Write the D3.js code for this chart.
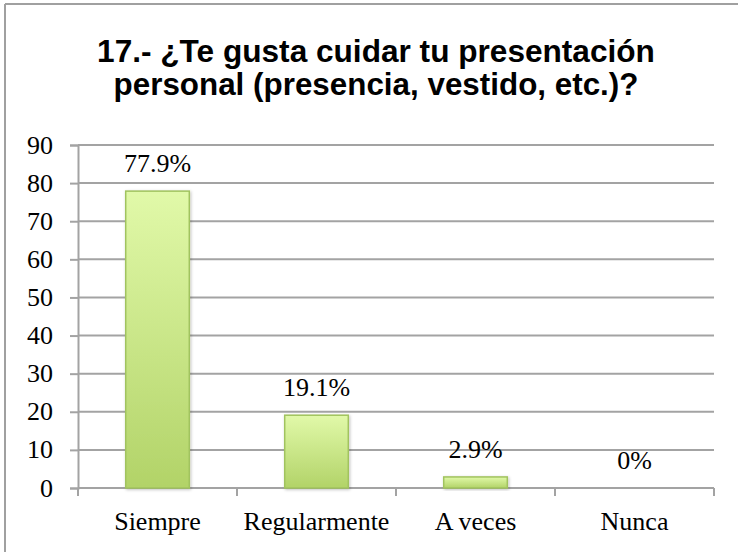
<!DOCTYPE html>
<html lang="es">
<head>
  <meta charset="UTF-8" />
  <title>17.- ¿Te gusta cuidar tu presentación personal?</title>
  <style>
    body { margin: 0; background: #fff; }
    svg { display: block; }
    .tick-label, .cat-label, .val-label {
      font-family: 'Liberation Serif', 'Times New Roman', serif;
      font-size: 26px;
      fill: #000;
    }
    .title {
      font-family: 'Liberation Sans', Arial, sans-serif;
      font-weight: bold;
      font-size: 32px;
      fill: #000;
    }
    .grid { stroke: #a3a3a3; stroke-width: 2px; }
  </style>
</head>
<body>
  <svg id="chart" width="738" height="552"></svg>

  <script src="https://d3js.org/d3.v7.min.js"></script>
  <script>
    // data
    const categories = ["Siempre", "Regularmente", "A veces", "Nunca"];
    const values = [77.9, 19.1, 2.9, 0];
    const valueLabels = ["77.9%", "19.1%", "2.9%", "0%"];
    const yTicks = [0, 10, 20, 30, 40, 50, 60, 70, 80, 90];
    const titleLines = ["17.- ¿Te gusta cuidar tu presentación", "personal (presencia, vestido, etc.)?"];

    const svg = d3.select("#chart");

    const plotLeft = 78, plotRight = 714, plotTop = 145, plotBottom = 488;

    const x = d3.scaleBand()
      .domain(categories)
      .range([plotLeft, plotRight])
      .paddingInner(0.6)
      .paddingOuter(0.3);

    const y = d3.scaleLinear().domain([0, 90]).range([plotBottom, plotTop]);

    // outer frame (only top and left visible in the crop)
    svg.append("line").attr("x1", 5).attr("x2", 738).attr("y1", 4).attr("y2", 4)
      .attr("stroke", "#a0a0a0").attr("stroke-width", 2);
    svg.append("line").attr("x1", 5).attr("x2", 5).attr("y1", 4).attr("y2", 552)
      .attr("stroke", "#a0a0a0").attr("stroke-width", 2);

    // title, squeezed horizontally like the original
    const titleWidths = [558, 525];
    const titleY = [62, 95];
    titleLines.forEach((t, i) => {
      const txt = svg.append("text")
        .attr("class", "title")
        .attr("x", 376)
        .attr("y", titleY[i])
        .attr("text-anchor", "middle")
        .text(t);
      const w = txt.node().getComputedTextLength();
      const sx = titleWidths[i] / w;
      txt.attr("transform", `translate(${376 * (1 - sx)},0) scale(${sx},1)`);
    });

    const defs = svg.append("defs");
    const grad = defs.append("linearGradient")
      .attr("id", "barGrad").attr("x1", 0).attr("y1", 0).attr("x2", 0).attr("y2", 1);
    grad.append("stop").attr("offset", "0%").attr("stop-color", "#e1f9a9");
    grad.append("stop").attr("offset", "100%").attr("stop-color", "#b2d368");

    const shadow = defs.append("filter").attr("id", "shadow")
      .attr("x", "-20%").attr("y", "-20%").attr("width", "140%").attr("height", "140%");
    shadow.append("feDropShadow")
      .attr("dx", 1).attr("dy", 1).attr("stdDeviation", 1.5)
      .attr("flood-color", "#000").attr("flood-opacity", 0.25);

    // gridlines + y axis
    const yAxis = d3.axisLeft(y).tickValues(yTicks).tickSize(8).tickFormat("");
    const gy = svg.append("g").attr("transform", `translate(${plotLeft},0)`).call(yAxis);
    gy.select(".domain").attr("stroke", "#a3a3a3").attr("stroke-width", 2);
    gy.selectAll(".tick line").attr("stroke", "#a3a3a3").attr("stroke-width", 2);

    svg.append("g").selectAll("line")
      .data(yTicks)
      .join("line")
      .attr("class", "grid")
      .attr("x1", plotLeft).attr("x2", plotRight)
      .attr("y1", d => y(d)).attr("y2", d => y(d));

    svg.append("g").selectAll("text")
      .data(yTicks)
      .join("text")
      .attr("class", "tick-label")
      .attr("x", 53)
      .attr("y", d => y(d))
      .attr("dy", "0.33em")
      .attr("text-anchor", "end")
      .text(d => d);

    // x axis ticks at band boundaries
    const step = x.step();
    const bounds = d3.range(categories.length + 1).map(i => plotLeft + i * step);
    svg.append("g").selectAll("line")
      .data(bounds)
      .join("line")
      .attr("x1", d => d).attr("x2", d => d)
      .attr("y1", plotBottom).attr("y2", plotBottom + 8)
      .attr("stroke", "#a3a3a3").attr("stroke-width", 2);

    // bars
    svg.append("g").selectAll("rect")
      .data(values.map((v, i) => ({ cat: categories[i], v })).filter(d => d.v > 0))
      .join("rect")
      .attr("x", d => x(d.cat))
      .attr("y", d => y(d.v))
      .attr("width", x.bandwidth())
      .attr("height", d => plotBottom - y(d.v))
      .attr("fill", "url(#barGrad)")
      .attr("stroke", "#a1c35e")
      .attr("stroke-width", 1.5)
      .attr("filter", "url(#shadow)");

    // value labels
    svg.append("g").selectAll("text")
      .data(values)
      .join("text")
      .attr("class", "val-label")
      .attr("x", (d, i) => x(categories[i]) + x.bandwidth() / 2)
      .attr("y", d => y(d) - 19)
      .attr("text-anchor", "middle")
      .text((d, i) => valueLabels[i]);

    // category labels
    svg.append("g").selectAll("text")
      .data(categories)
      .join("text")
      .attr("class", "cat-label")
      .attr("x", d => x(d) + x.bandwidth() / 2)
      .attr("y", 530)
      .attr("text-anchor", "middle")
      .text(d => d);
  </script>
</body>
</html>
